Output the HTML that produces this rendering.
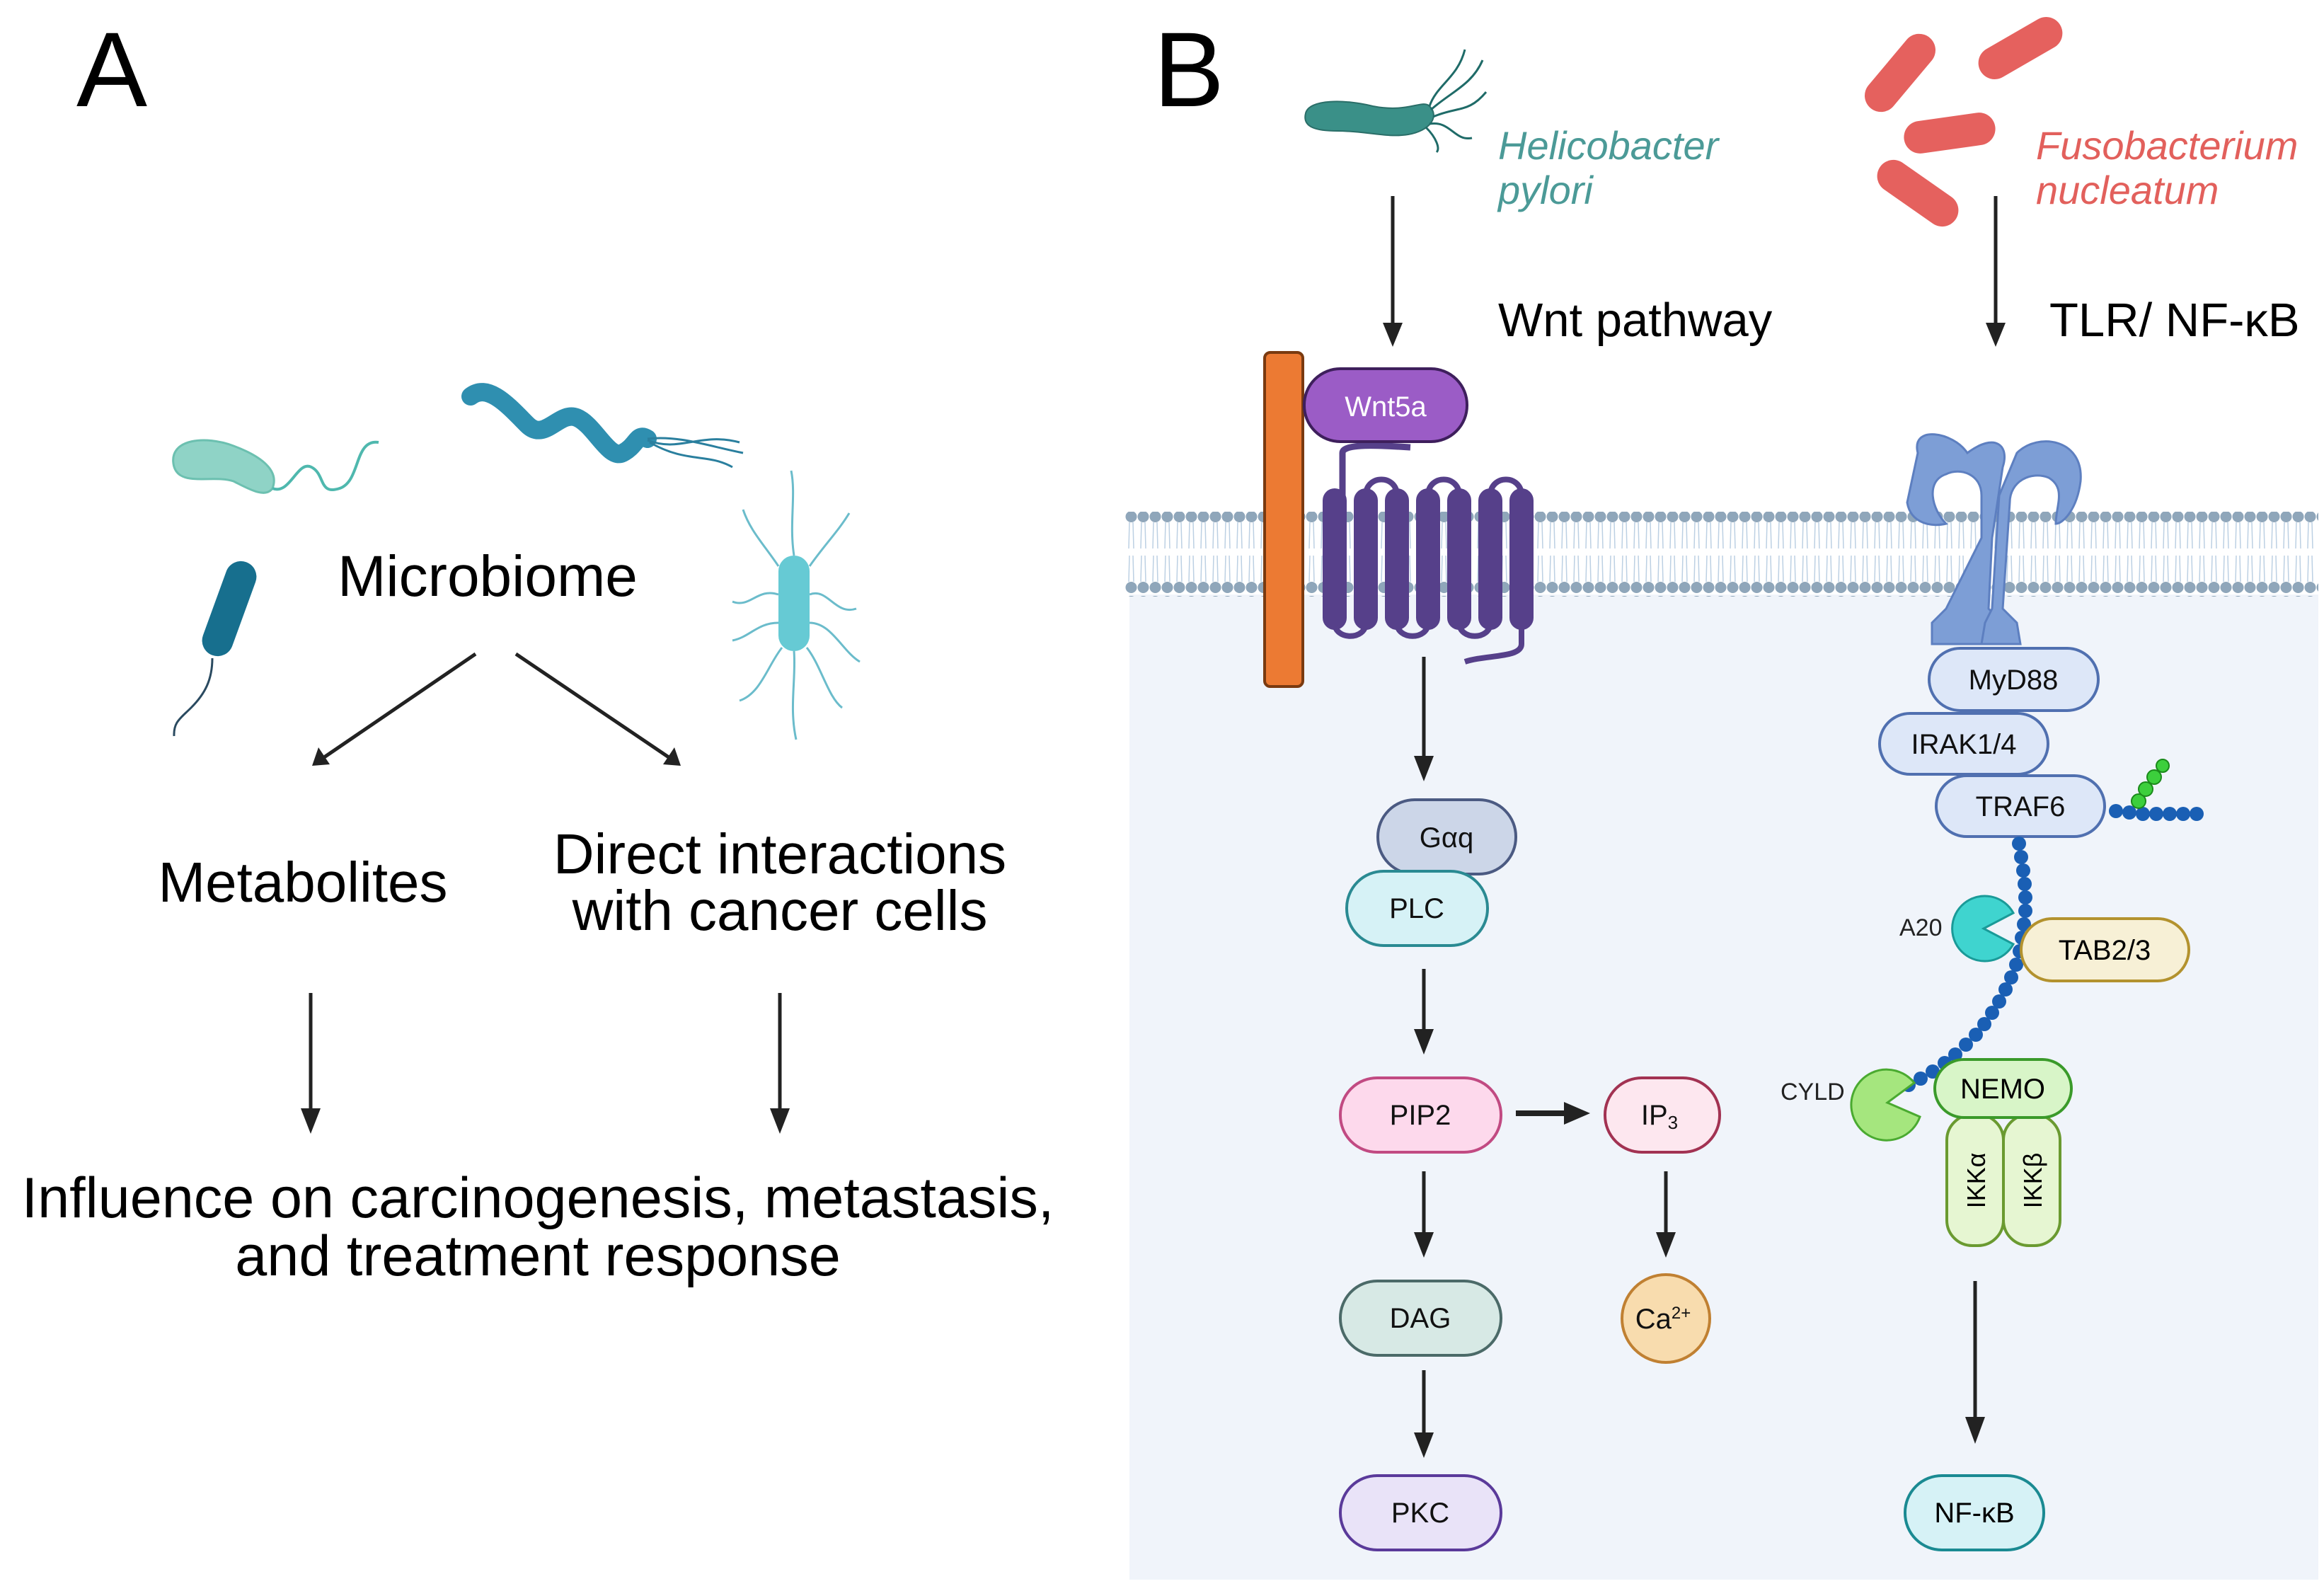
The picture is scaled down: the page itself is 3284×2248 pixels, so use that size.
<!DOCTYPE html>
<html><head><meta charset="utf-8"><style>
html,body{margin:0;padding:0;background:#fff}
svg{display:block}
text{font-family:"Liberation Sans",sans-serif}
</style></head><body>
<svg width="3284" height="2248" viewBox="0 0 3284 2248" xmlns="http://www.w3.org/2000/svg">
<defs>
<pattern id="mem" x="1590" y="0" width="17" height="120" patternUnits="userSpaceOnUse">
<circle cx="8.5" cy="10" r="8" fill="#8fa6ba"/>
<path d="M6 18 L5 55 M11 18 L12 55 M6 65 L5 102 M11 65 L12 102" stroke="#bcd0e3" stroke-width="1.5" fill="none"/>
<circle cx="8.5" cy="110" r="8" fill="#8fa6ba"/>
</pattern>
</defs>
<rect width="3284" height="2248" fill="#fff"/>
<rect x="1596" y="840" width="1680" height="1392" fill="#f0f4fa"/>
<rect x="1590" y="723" width="1686" height="120" fill="url(#mem)"/>

<text x="108" y="150" font-size="150" fill="#000">A</text>
<text x="1630" y="150" font-size="150" fill="#000">B</text>

<path d="M245 655 C240 620 290 615 330 630 C370 645 395 665 385 690 C375 705 350 690 330 680 C300 670 250 690 245 655Z" fill="#8fd3c6" stroke="#6cc0b0" stroke-width="3"/>
<path d="M385 690 C410 700 420 650 440 660 C460 670 450 700 480 690 C510 680 500 620 535 625" stroke="#4fb8ae" stroke-width="4" fill="none"/>
<path d="M665 560 C690 540 720 575 745 600 C770 625 790 580 815 590 C840 600 860 650 880 640 C900 630 900 610 915 620" stroke="#2f8fb0" stroke-width="26" stroke-linecap="round" fill="none"/>
<path d="M915 620 C960 615 1000 630 1050 640 M915 622 C960 640 990 610 1045 625 M918 625 C970 655 1000 640 1035 660" stroke="#2a7f9e" stroke-width="3" fill="none"/>
<rect x="302" y="790" width="44" height="140" rx="22" fill="#176f8e" transform="rotate(20 324 860)"/>
<path d="M300 930 C300 960 290 980 270 1000 C255 1015 245 1020 246 1040" stroke="#2a4a60" stroke-width="3" fill="none"/>
<rect x="1100" y="785" width="44" height="135" rx="22" fill="#66cad4"/>
<path d="M1122 785 C1115 740 1125 700 1118 665 M1100 800 C1080 770 1060 750 1050 720 M1144 800 C1165 770 1185 750 1200 725 M1100 840 C1070 830 1060 860 1035 850 M1144 840 C1170 830 1180 870 1210 860 M1100 880 C1070 880 1060 900 1035 905 M1144 880 C1175 880 1190 920 1215 935 M1105 915 C1085 940 1075 980 1045 990 M1122 920 C1125 960 1115 1000 1125 1045 M1140 915 C1160 940 1170 985 1190 1000" stroke="#6bbccb" stroke-width="3" fill="none"/>

<text x="689" y="842" font-size="82" text-anchor="middle">Microbiome</text>
<text x="428" y="1274" font-size="80" text-anchor="middle">Metabolites</text>
<text x="1102" y="1234" font-size="80" text-anchor="middle">Direct interactions</text>
<text x="1102" y="1314" font-size="80" text-anchor="middle">with cancer cells</text>
<text x="760" y="1720" font-size="81" text-anchor="middle">Influence on carcinogenesis, metastasis,</text>
<text x="760" y="1802" font-size="81" text-anchor="middle">and treatment response</text>

<g stroke="#222" stroke-width="5" fill="none">
<line x1="672" y1="924" x2="458" y2="1070"/>
<line x1="729" y1="924" x2="945" y2="1070"/>
<line x1="439" y1="1403" x2="439" y2="1570"/>
<line x1="1102" y1="1403" x2="1102" y2="1570"/>
</g>
<g fill="#222">
<polygon points="441,1082 450,1056 466,1080"/>
<polygon points="962,1082 937,1080 953,1056"/>
<polygon points="439,1602 425,1566 453,1566"/>
<polygon points="1102,1602 1088,1566 1116,1566"/>
</g>

<path d="M1845 160 C1850 140 1900 140 1940 150 C1990 160 2010 140 2020 150 C2035 165 2020 185 1990 190 C1960 195 1930 185 1890 185 C1860 185 1840 180 1845 160Z" fill="#3a9088" stroke="#2a6e68" stroke-width="2"/>
<path d="M2020 150 C2030 120 2060 110 2070 70 M2022 155 C2050 130 2080 120 2095 85 M2025 165 C2060 150 2075 160 2100 130 M2020 175 C2050 170 2055 200 2080 195 M2015 180 C2030 195 2035 210 2030 215" stroke="#1f6b68" stroke-width="3" fill="none"/>
<g fill="#e5615e">
<rect x="2620" y="80" width="130" height="46" rx="23" transform="rotate(-50 2685 103)"/>
<rect x="2790" y="45" width="130" height="46" rx="23" transform="rotate(-30 2855 68)"/>
<rect x="2690" y="165" width="130" height="46" rx="23" transform="rotate(-8 2755 188)"/>
<rect x="2645" y="250" width="130" height="46" rx="23" transform="rotate(35 2710 273)"/>
</g>
<text x="2117" y="225" font-size="56" font-style="italic" fill="#4b9a97">Helicobacter</text>
<text x="2117" y="288" font-size="56" font-style="italic" fill="#4b9a97">pylori</text>
<text x="2877" y="225" font-size="56" font-style="italic" fill="#e2605c">Fusobacterium</text>
<text x="2877" y="288" font-size="56" font-style="italic" fill="#e2605c">nucleatum</text>
<text x="2117" y="475" font-size="67">Wnt pathway</text>
<text x="2896" y="475" font-size="67">TLR/ NF-κB</text>

<g stroke="#222" stroke-width="5">
<line x1="1968" y1="277" x2="1968" y2="460"/>
<line x1="2820" y1="277" x2="2820" y2="460"/>
<line x1="2012" y1="928" x2="2012" y2="1072"/>
<line x1="2012" y1="1369" x2="2012" y2="1458"/>
<line x1="2012" y1="1655" x2="2012" y2="1745"/>
<line x1="2354" y1="1655" x2="2354" y2="1745"/>
<line x1="2012" y1="1936" x2="2012" y2="2028"/>
<line x1="2791" y1="1810" x2="2791" y2="2005"/>
<line x1="2142" y1="1573" x2="2215" y2="1573" stroke-width="8"/>
</g>
<g fill="#222">
<polygon points="1968,490 1954,456 1982,456"/>
<polygon points="2820,490 2806,456 2834,456"/>
<polygon points="2012,1104 1998,1068 2026,1068"/>
<polygon points="2012,1490 1998,1454 2026,1454"/>
<polygon points="2012,1777 1998,1741 2026,1741"/>
<polygon points="2354,1777 2340,1741 2368,1741"/>
<polygon points="2012,2060 1998,2024 2026,2024"/>
<polygon points="2791,2040 2777,2002 2805,2002"/>
<polygon points="2247,1573 2210,1557 2210,1589"/>
</g>

<rect x="1787" y="498" width="54" height="472" rx="8" fill="#ec7a33" stroke="#7a3a10" stroke-width="4"/>
<path d="M1897 720 L1897 640 C1897 625 1960 630 1993 632" stroke="#56408a" stroke-width="9" fill="none"/>
<g fill="#56408a">
<rect x="1869" y="690" width="34" height="200" rx="17"/>
<rect x="1913" y="690" width="34" height="200" rx="17"/>
<rect x="1957" y="690" width="34" height="200" rx="17"/>
<rect x="2001" y="690" width="34" height="200" rx="17"/>
<rect x="2045" y="690" width="34" height="200" rx="17"/>
<rect x="2089" y="690" width="34" height="200" rx="17"/>
<rect x="2133" y="690" width="34" height="200" rx="17"/>
</g>
<path d="M1886 880 C1886 905 1930 905 1930 880 M1974 880 C1974 905 2018 905 2018 880 M2062 880 C2062 905 2106 905 2106 880 M1930 700 C1930 670 1974 670 1974 700 M2018 700 C2018 670 2062 670 2062 700 M2106 700 C2106 670 2150 670 2150 700 M2150 880 L2150 910 C2150 930 2100 925 2070 935" stroke="#56408a" stroke-width="8" fill="none"/>
<rect x="1843" y="521" width="230" height="103" rx="51" fill="#9b5cc6" stroke="#3e1f5c" stroke-width="4"/>
<text x="1958" y="588" font-size="40" text-anchor="middle" fill="#fff">Wnt5a</text>

<g fill="#7d9ed6" stroke="#5d7fc0" stroke-width="3">
<path d="M2710 640 C2700 600 2760 610 2780 640 C2820 610 2840 630 2830 660 L2815 760 L2810 860 L2830 880 L2830 910 L2730 910 L2730 880 L2750 860 L2800 760 L2800 700 C2800 670 2770 660 2750 670 C2720 680 2730 720 2750 740 C2730 745 2700 740 2695 710Z"/>
<path d="M2850 640 C2880 610 2945 620 2940 680 C2935 720 2915 740 2905 740 C2905 715 2920 690 2895 675 C2870 665 2840 680 2840 710 L2830 860 L2850 880 L2855 910 L2800 910 L2805 880 L2815 860 L2825 700 Z"/>
</g>

<g font-size="40" text-anchor="middle" fill="#111">
<rect x="1947" y="1130" width="195" height="105" rx="52" fill="#ccd6e8" stroke="#4b5a82" stroke-width="4"/>
<text x="2044" y="1197">Gαq</text>
<rect x="1903" y="1231" width="199" height="105" rx="52" fill="#d6f2f6" stroke="#2a8a92" stroke-width="4"/>
<text x="2002" y="1297">PLC</text>
<rect x="1894" y="1523" width="227" height="105" rx="52" fill="#fdd9ec" stroke="#c14a82" stroke-width="4"/>
<text x="2007" y="1589">PIP2</text>
<rect x="2268" y="1523" width="162" height="105" rx="52" fill="#fde7ef" stroke="#a23252" stroke-width="4"/>
<text x="2345" y="1589">IP<tspan font-size="26" dy="6">3</tspan></text>
<rect x="1894" y="1810" width="227" height="105" rx="52" fill="#d7e9e5" stroke="#4b6a68" stroke-width="4"/>
<text x="2007" y="1876">DAG</text>
<circle cx="2354" cy="1863" r="62" fill="#f8dcae" stroke="#c08032" stroke-width="4"/>
<text x="2350" y="1877">Ca<tspan font-size="24" dy="-14">2+</tspan></text>
<rect x="1894" y="2085" width="227" height="105" rx="52" fill="#e9e3f8" stroke="#5a3a9a" stroke-width="4"/>
<text x="2007" y="2151">PKC</text>

<rect x="2726" y="916" width="239" height="88" rx="44" fill="#dde7f8" stroke="#5070b0" stroke-width="4"/>
<text x="2845" y="974">MyD88</text>
<rect x="2656" y="1008" width="238" height="86" rx="43" fill="#dde7f8" stroke="#5070b0" stroke-width="4"/>
<text x="2775" y="1065">IRAK1/4</text>
<rect x="2736" y="1096" width="238" height="86" rx="43" fill="#dde7f8" stroke="#5070b0" stroke-width="4"/>
<text x="2855" y="1153">TRAF6</text>
</g>

<g fill="#1a5fb4">
<circle cx="2990" cy="1146" r="10"/><circle cx="3009" cy="1148" r="10"/><circle cx="3028" cy="1150" r="10"/><circle cx="3047" cy="1150" r="10"/><circle cx="3066" cy="1150" r="10"/><circle cx="3085" cy="1150" r="10"/><circle cx="3104" cy="1150" r="10"/>
<circle cx="2853" cy="1192" r="10"/><circle cx="2856" cy="1211" r="10"/><circle cx="2859" cy="1230" r="10"/><circle cx="2861" cy="1249" r="10"/><circle cx="2862" cy="1268" r="10"/><circle cx="2862" cy="1287" r="10"/><circle cx="2860" cy="1306" r="10"/><circle cx="2857" cy="1325" r="10"/><circle cx="2854" cy="1344" r="10"/><circle cx="2849" cy="1363" r="10"/><circle cx="2842" cy="1381" r="10"/><circle cx="2834" cy="1398" r="10"/><circle cx="2825" cy="1415" r="10"/><circle cx="2815" cy="1431" r="10"/><circle cx="2804" cy="1447" r="10"/><circle cx="2792" cy="1462" r="10"/><circle cx="2778" cy="1476" r="10"/><circle cx="2763" cy="1490" r="10"/><circle cx="2748" cy="1502" r="10"/><circle cx="2731" cy="1514" r="10"/><circle cx="2714" cy="1524" r="10"/><circle cx="2697" cy="1533" r="10"/>
</g>
<g fill="#3ccf3c" stroke="#1a8a1a" stroke-width="2">
<circle cx="3022" cy="1132" r="10"/><circle cx="3032" cy="1115" r="10"/><circle cx="3044" cy="1098" r="10"/><circle cx="3056" cy="1082" r="9"/>
</g>
<path d="M2803 1312 L2845 1290 A46 46 0 1 0 2845 1334 Z" fill="#3fd4cf" stroke="#1a9a98" stroke-width="3"/>
<text x="2684" y="1322" font-size="34" fill="#222">A20</text>
<rect x="2856" y="1298" width="237" height="88" rx="44" fill="#f7f0d6" stroke="#b3922e" stroke-width="4"/>
<text x="2974" y="1356" font-size="40" text-anchor="middle">TAB2/3</text>
<path d="M2667 1558 L2705 1530 A50 50 0 1 0 2713 1578 Z" fill="#a5e67e" stroke="#4aaa30" stroke-width="3"/>
<text x="2516" y="1554" font-size="34" fill="#222">CYLD</text>
<rect x="2751" y="1575" width="80" height="185" rx="36" fill="#e6f6d2" stroke="#6a9a30" stroke-width="4"/>
<rect x="2831" y="1575" width="80" height="185" rx="36" fill="#e6f6d2" stroke="#6a9a30" stroke-width="4"/>
<text transform="translate(2805 1668) rotate(-90)" font-size="36" text-anchor="middle">IKKα</text>
<text transform="translate(2885 1668) rotate(-90)" font-size="36" text-anchor="middle">IKKβ</text>
<rect x="2734" y="1497" width="193" height="82" rx="41" fill="#d8f5c8" stroke="#3a9a2a" stroke-width="4"/>
<text x="2830" y="1552" font-size="40" text-anchor="middle">NEMO</text>
<rect x="2692" y="2085" width="196" height="105" rx="52" fill="#d6f2f6" stroke="#1a8a92" stroke-width="4"/>
<text x="2790" y="2151" font-size="40" text-anchor="middle">NF-κB</text>
</svg>
</body></html>
